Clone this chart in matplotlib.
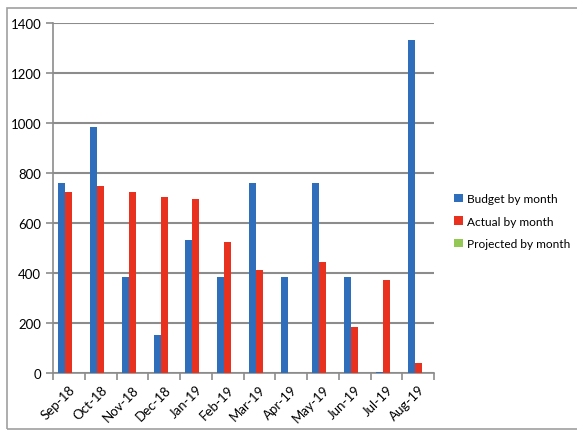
import numpy as np
import matplotlib.pyplot as plt
from matplotlib.patches import Rectangle

months = ['Sep-18', 'Oct-18', 'Nov-18', 'Dec-18', 'Jan-19', 'Feb-19',
          'Mar-19', 'Apr-19', 'May-19', 'Jun-19', 'Jul-19', 'Aug-19']
budget = [760, 985, 384, 153, 533, 384, 760, 384, 760, 384, 5, 1331]
actual = [725, 748, 725, 703, 697, 523, 413, 0, 443, 183, 373, 39]
projected = [0, 0, 0, 0, 0, 0, 0, 0, 0, 0, 0, 0]

plt.rcParams['font.family'] = ['Lato', 'DejaVu Sans']

fig = plt.figure(figsize=(5.77, 4.31), dpi=100)
ax = fig.add_axes([53 / 577, 1 - 374 / 431, 381 / 577, 350 / 431])

x = np.arange(len(months))
w = 0.22
ax.bar(x - w, budget, w, color='#2F6EBA', label='Budget by month', zorder=3)
ax.bar(x, actual, w, color='#E8321F', label='Actual by month', zorder=3)
ax.bar(x + w, projected, w, color='#92C853', label='Projected by month', zorder=3)

ax.set_xlim(-0.5, len(months) - 0.5)
ax.set_ylim(0, 1400)
ax.set_yticks(range(0, 1401, 200))
ax.yaxis.grid(True, color='#8C8C8C', linewidth=1.5, zorder=0)
ax.set_axisbelow(True)

ax.set_xticks(x)
ax.set_xticklabels(months, rotation=45, ha='right', rotation_mode='anchor', fontsize=9.5)
ax.set_xticks(np.arange(-0.5, len(months), 1), minor=True)
ax.tick_params(axis='x', which='major', length=0, pad=7)
ax.tick_params(axis='x', which='minor', length=5, color='#8C8C8C', width=1.2)
ax.tick_params(axis='y', length=5, color='#8C8C8C', width=1.2, labelsize=9.5)

for s in ['top', 'right']:
    ax.spines[s].set_visible(False)
for s in ['left', 'bottom']:
    ax.spines[s].set_color('#8C8C8C')
    ax.spines[s].set_linewidth(1.2)

leg = fig.legend(loc='upper left', bbox_to_anchor=(446 / 577, 1 - 186 / 431),
                 frameon=False, fontsize=8.6, handlelength=0.7, handleheight=0.7,
                 handletextpad=0.35, labelspacing=0.95, borderpad=0.2)

fig.patches.append(Rectangle((7 / 577, 1 / 431), 1.0, 421 / 431, transform=fig.transFigure,
                             fill=False, edgecolor='#A0A0A0', linewidth=1.2))

fig.savefig('out.png', dpi=100)
